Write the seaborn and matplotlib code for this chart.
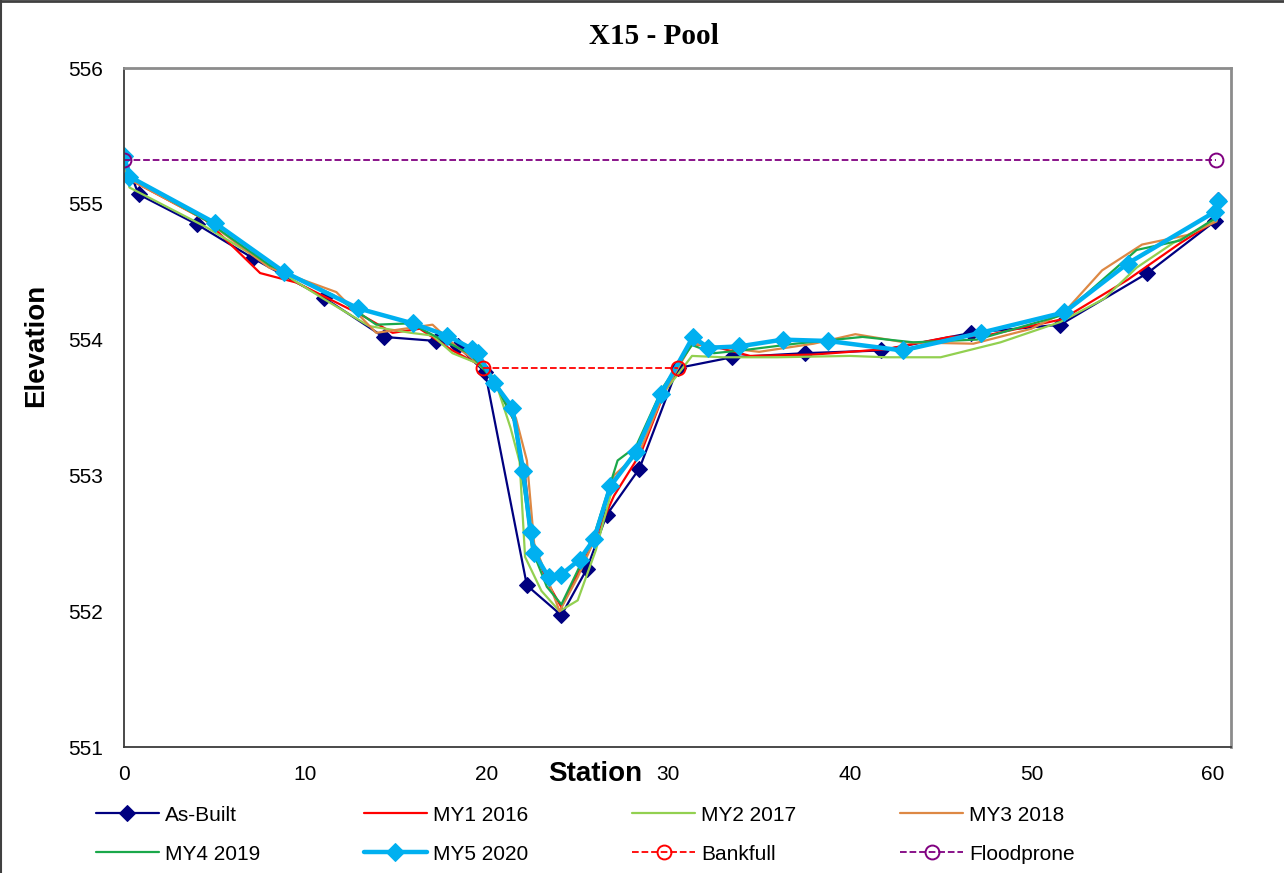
import matplotlib
matplotlib.use("Agg")
import matplotlib.pyplot as plt
from matplotlib.lines import Line2D
import numpy as np
import pandas as pd
import seaborn as sns

# surveyed cross-section X15 (station, elevation)
asbuilt_x = [0, 0.8, 4.0, 7.1, 11.0, 14.3, 17.2, 18.4, 19.9, 22.2, 24.1, 25.5, 26.6, 28.4,
             30.5, 33.5, 37.5, 41.7, 46.7, 51.6, 56.4, 60.1, 60.3]
asbuilt_y = [555.35, 555.07, 554.85, 554.60, 554.31, 554.02, 553.99, 553.95, 553.76, 552.19,
             551.97, 552.31, 552.71, 553.05, 553.79, 553.87, 553.90, 553.92, 554.05, 554.11,
             554.49, 554.87, 555.03]

my1_x = [0, 0.3, 4.5, 7.5, 9.5, 13.1, 14.8, 16.3, 18.1, 19.8, 20.6, 21.5, 22.1, 22.5, 23.3,
         24.1, 25.0, 26.0, 27.0, 28.5, 29.8, 31.2, 32.5, 34.5, 38.0, 42.0, 45.5, 47.5, 51.7,
         55.3, 58.2, 60.2, 60.3]
my1_y = [555.33, 555.18, 554.88, 554.49, 554.42, 554.18, 554.05, 554.08, 553.92, 553.80,
         553.65, 553.40, 553.00, 552.50, 552.22, 552.03, 552.27, 552.55, 552.85, 553.17,
         553.62, 553.97, 553.95, 553.88, 553.89, 553.93, 554.02, 554.03, 554.15, 554.44,
         554.71, 554.88, 554.96]

my2_x = [0, 0.3, 4.5, 8.0, 11.0, 13.5, 15.8, 17.0, 18.1, 19.4, 20.4, 21.3, 21.8, 22.1, 23.0,
         24.0, 25.0, 26.0, 27.0, 28.3, 29.8, 31.3, 33.0, 36.0, 40.0, 42.0, 45.0, 48.3, 51.6,
         54.0, 55.8, 57.8, 60.2, 60.3]
my2_y = [555.30, 555.12, 554.83, 554.55, 554.30, 554.10, 554.05, 554.03, 553.90, 553.83,
         553.72, 553.35, 553.10, 552.40, 552.15, 552.00, 552.08, 552.45, 552.95, 553.20,
         553.62, 553.88, 553.87, 553.87, 553.88, 553.87, 553.87, 553.98, 554.13, 554.30,
         554.53, 554.71, 554.88, 554.95]

my3_x = [0, 0.3, 4.5, 8.0, 11.7, 13.9, 17.0, 18.3, 19.8, 20.6, 21.6, 22.2, 22.6, 23.3, 24.0,
         25.0, 26.0, 27.0, 28.4, 29.8, 31.3, 32.5, 35.0, 38.0, 40.3, 43.0, 46.8, 50.0, 51.8,
         53.9, 56.1, 58.6, 60.2, 60.3]
my3_y = [555.32, 555.18, 554.88, 554.53, 554.35, 554.05, 554.11, 553.95, 553.80, 553.66,
         553.42, 553.11, 552.50, 552.25, 552.00, 552.25, 552.55, 553.00, 553.17, 553.62,
         553.97, 553.95, 553.91, 553.97, 554.04, 553.98, 553.97, 554.08, 554.20, 554.51,
         554.70, 554.77, 554.87, 554.95]

my4_x = [0, 0.3, 4.5, 8.0, 11.5, 13.9, 15.8, 17.5, 19.0, 19.8, 20.6, 21.5, 22.1, 22.5, 23.3,
         24.1, 25.0, 26.0, 27.2, 28.2, 29.7, 31.3, 32.5, 34.0, 37.0, 40.7, 43.5, 47.0, 51.7,
         55.8, 58.2, 60.2, 60.3]
my4_y = [555.33, 555.20, 554.88, 554.55, 554.33, 554.11, 554.12, 554.00, 553.90, 553.79,
         553.64, 553.40, 552.85, 552.45, 552.18, 552.05, 552.30, 552.60, 553.11, 553.21,
         553.65, 553.96, 553.90, 553.92, 553.97, 554.02, 553.98, 554.00, 554.18, 554.66,
         554.73, 554.90, 554.97]

my5_x = [0, 0.3, 5.0, 8.8, 12.9, 15.9, 17.8, 19.2, 19.5, 20.4, 21.4, 22.0, 22.4, 22.6, 23.4,
         24.1, 25.1, 25.9, 26.8, 28.2, 29.6, 31.35, 32.2, 33.9, 36.3, 38.8, 42.9, 47.2, 51.8,
         55.3, 60.1, 60.3]
my5_y = [555.35, 555.20, 554.86, 554.50, 554.23, 554.12, 554.03, 553.93, 553.90, 553.68,
         553.50, 553.03, 552.58, 552.43, 552.25, 552.27, 552.38, 552.53, 552.92, 553.17,
         553.60, 554.02, 553.94, 553.95, 554.00, 553.99, 553.92, 554.05, 554.20, 554.56,
         554.94, 555.02]

bankfull_x = [19.8, 30.5]
bankfull_y = [553.79, 553.79]
floodprone_x = [0, 60.2]
floodprone_y = [555.32, 555.32]

series = [
    ("As-Built", asbuilt_x, asbuilt_y,
     dict(color="#000080", lw=1.6, marker="D", markersize=8, markeredgecolor="#000080")),
    ("MY1 2016", my1_x, my1_y, dict(color="#FF0000", lw=1.6)),
    ("MY2 2017", my2_x, my2_y, dict(color="#92D050", lw=1.6)),
    ("MY3 2018", my3_x, my3_y, dict(color="#DD8844", lw=1.6)),
    ("MY4 2019", my4_x, my4_y, dict(color="#1AA84A", lw=1.6)),
    ("MY5 2020", my5_x, my5_y,
     dict(color="#00B0F0", lw=3.2, marker="D", markersize=9, markeredgecolor="#00B0F0")),
    ("Bankfull", bankfull_x, bankfull_y,
     dict(color="#FF0000", lw=1.3, ls="--", marker="o", markersize=10, markerfacecolor="none",
          markeredgecolor="#FF0000", markeredgewidth=1.4)),
    ("Floodprone", floodprone_x, floodprone_y,
     dict(color="#800080", lw=1.3, ls="--", marker="o", markersize=10, markerfacecolor="none",
          markeredgecolor="#800080", markeredgewidth=1.4)),
]

sns.set_style("white")
plt.rcParams["font.family"] = ["Liberation Sans", "DejaVu Sans"]
plt.rcParams["font.size"] = 15
plt.rcParams["text.color"] = "black"
plt.rcParams["axes.labelcolor"] = "black"

fig = plt.figure(figsize=(12.84, 8.73), dpi=100)
ax = fig.add_axes([0.0966, 0.1443, 0.8621, 0.7778])

for name, xs, ys, style in series:
    df = pd.DataFrame({"Station": xs, "Elevation": ys})
    sns.lineplot(data=df, x="Station", y="Elevation", sort=False, estimator=None,
                 label=name, ax=ax, **style)

ax.set_xlim(0, 61)
ax.set_ylim(551, 556)
ax.set_xticks(np.arange(0, 61, 10))
ax.set_yticks(np.arange(551, 557, 1))
ax.tick_params(axis="both", direction="out", length=8, width=1.2, labelsize=15,
               colors="black")
ax.tick_params(axis="y", pad=7)
ax.tick_params(axis="x", pad=5)

for side in ["left", "bottom"]:
    ax.spines[side].set_color("#3a3a3a")
    ax.spines[side].set_linewidth(1.3)
for side in ["top", "right"]:
    ax.spines[side].set_color("#8c8c8c")
    ax.spines[side].set_linewidth(2)

ax.set_title("X15 - Pool", fontfamily="Liberation Serif", fontweight="bold", fontsize=21,
             pad=17, x=0.479, color="black")
ax.set_xlabel("Station", fontweight="bold", fontsize=20)
ax.set_ylabel("Elevation", fontweight="bold", fontsize=20)
ax.xaxis.set_label_coords(0.4255, -0.02)
ax.yaxis.set_label_coords(-0.068, 0.592)

handles, labels = ax.get_legend_handles_labels()
if ax.get_legend():
    ax.get_legend().remove()
order = [0, 4, 1, 5, 2, 6, 3, 7]
leg = fig.legend([handles[i] for i in order], [labels[i] for i in order], ncol=4,
                 loc="upper left", bbox_to_anchor=(0.0748, 0.077), frameon=False,
                 fontsize=15, handlelength=3.0, handletextpad=0.3, columnspacing=5.0,
                 labelspacing=0.95, borderpad=0, borderaxespad=0)
for t in leg.get_texts():
    t.set_color("black")

# outer chart border (top and left edges visible)
fig.add_artist(Line2D([0, 1], [0.999, 0.999], transform=fig.transFigure, color="#404040", lw=2))
fig.add_artist(Line2D([0.001, 0.001], [0, 1], transform=fig.transFigure, color="#404040", lw=1.5))

fig.savefig("out.png", dpi=100)
